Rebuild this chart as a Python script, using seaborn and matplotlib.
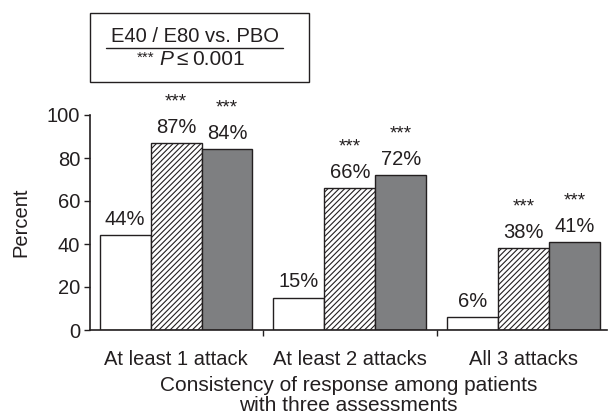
import matplotlib
matplotlib.use("Agg")
import matplotlib.pyplot as plt
import matplotlib.transforms as mtransforms
import seaborn as sns
import pandas as pd
import numpy as np

categories = ["At least 1 attack", "At least 2 attacks", "All 3 attacks"]
groups = ["PBO", "E40", "E80"]
pbo = [44, 15, 6]
e40 = [87, 66, 38]
e80 = [84, 72, 41]
significance = [["", "***", "***"], ["", "***", "***"], ["", "***", "***"]]
yticks = [0, 20, 40, 60, 80, 100]

sns.set_theme(style="ticks")
plt.rcParams["font.family"] = ["Liberation Sans", "DejaVu Sans"]
plt.rcParams["hatch.linewidth"] = 0.8

INK = "#231f20"
FS = 14.5

df = pd.DataFrame({
    "category": np.repeat(categories, 3),
    "group": groups * 3,
    "value": [v for trio in zip(pbo, e40, e80) for v in trio],
})

W, H = 608, 420
fig = plt.figure(figsize=(W / 100, H / 100), dpi=100)
ax = fig.add_axes([90 / W, 1 - 330 / H, 517 / W, 215 / H])

palette = {"PBO": "#ffffff", "E40": "#ffffff", "E80": "#7e7f81"}
sns.barplot(data=df, x="category", y="value", hue="group", hue_order=groups,
            palette=palette, width=0.88, edgecolor=INK, linewidth=1.0,
            legend=False, ax=ax)

for container, grp in zip(ax.containers, groups):
    for bar in container:
        if grp == "E40":
            bar.set_hatch("//////")
        bar.set_edgecolor(INK)

# value labels and significance stars above each bar
for gi, container in enumerate(ax.containers):
    for ci, bar in enumerate(container):
        x = bar.get_x() + bar.get_width() / 2
        h = bar.get_height()
        ax.text(x, h + 4.8, f"{h:.0f}%", ha="center", va="baseline",
                fontsize=FS, color=INK)
        star = significance[ci][gi]
        if star:
            ax.text(x, h + 17, star, ha="center", va="baseline",
                    fontsize=13.5, color=INK)

ax.set_ylim(0, 100)
ax.set_xlim(-0.495, 2.48)
ax.set_yticks(yticks)
ax.set_yticklabels([str(t) for t in yticks], fontsize=FS, color=INK)
ax.set_ylabel("Percent", fontsize=FS, color=INK)
ax.yaxis.set_label_coords(-0.115, 0.5)

# category names sit between the tick marks placed at group boundaries
ax.set_xticks([0.5, 1.5])
ax.set_xticklabels([])
blend = mtransforms.blended_transform_factory(ax.transData, ax.transAxes)
for i, name in enumerate(categories):
    ax.text(i, -0.163, name, ha="center", va="baseline", fontsize=FS,
            color=INK, transform=blend)
ax.set_xlabel("Consistency of response among patients\nwith three assessments",
              fontsize=15, color=INK, linespacing=1.08)
ax.xaxis.set_label_coords(0.5, -0.215)

ax.tick_params(axis="both", direction="out", length=4, width=1, color=INK, pad=3)
for side in ["top", "right"]:
    ax.spines[side].set_visible(False)
for side in ["left", "bottom"]:
    ax.spines[side].set_color(INK)
    ax.spines[side].set_linewidth(1.2)

# note box at top left
def fx(px):
    return px / W


def fy(py):
    return 1 - py / H


box = plt.Rectangle((fx(90), fy(82)), fx(219), 69 / H,
                    transform=fig.transFigure, fill=False, edgecolor=INK,
                    linewidth=1.0)
fig.add_artist(box)
fig.text(fx(195), fy(42), "E40 / E80 vs. PBO", ha="center", va="baseline",
         fontsize=FS, color=INK)
fig.add_artist(plt.Line2D([fx(106), fx(283)], [fy(48), fy(48)],
                          transform=fig.transFigure, color=INK, linewidth=1.0))
fig.text(fx(137), fy(62), "***", ha="left", va="baseline", fontsize=11,
         color=INK)
fig.text(fx(159), fy(65), "P", ha="left", va="baseline", fontsize=15,
         style="italic", color=INK)
fig.text(fx(176), fy(65), "\u2264", ha="left", va="baseline", fontsize=15,
         color=INK)
fig.text(fx(192), fy(65), "0.001", ha="left", va="baseline", fontsize=15,
         color=INK)

fig.savefig("out.png", dpi=100)
